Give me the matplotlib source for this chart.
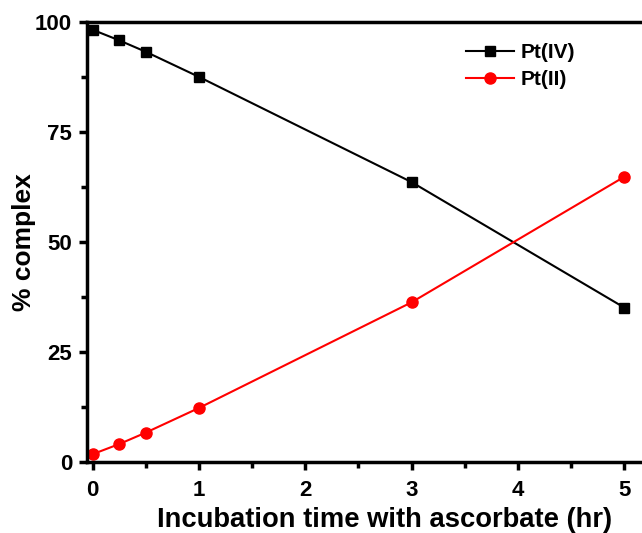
import numpy as np
import matplotlib
matplotlib.use("Agg")
import matplotlib.pyplot as plt
from matplotlib.ticker import MultipleLocator

time_hr = [0, 0.25, 0.5, 1, 3, 5]
pt_iv = [98.2, 95.8, 93.2, 87.5, 63.6, 35.1]
pt_ii = [1.8, 4.1, 6.7, 12.3, 36.3, 64.8]

plt.rcParams["font.family"] = ["Liberation Sans", "DejaVu Sans"]
plt.rcParams["font.weight"] = "bold"

fig = plt.figure(figsize=(6.42, 5.33), dpi=100)
ax = fig.add_axes([0.136, 0.133, 0.864, 0.826])

ax.plot(time_hr, pt_iv, color="black", marker="s", markersize=7, lw=1.5, label="Pt(IV)")
ax.plot(time_hr, pt_ii, color="red", marker="o", markersize=8, lw=1.5, label="Pt(II)")

ax.set_xlim(-0.05, 5.167)
ax.set_ylim(0, 100)
ax.xaxis.set_major_locator(MultipleLocator(1))
ax.xaxis.set_minor_locator(MultipleLocator(0.5))
ax.yaxis.set_major_locator(MultipleLocator(25))
ax.yaxis.set_minor_locator(MultipleLocator(12.5))
ax.set_xticks([0, 1, 2, 3, 4, 5])

for side in ["left", "bottom", "top"]:
    ax.spines[side].set_linewidth(2.5)
ax.spines["right"].set_visible(False)

ax.tick_params(which="major", direction="out", length=6, width=2.5, labelsize=16, pad=5)
ax.tick_params(axis="x", which="major", pad=7)
ax.tick_params(which="minor", direction="out", length=4, width=2.5)
ax.tick_params(top=False, which="both")

ax.set_xlabel("Incubation time with ascorbate (hr)", fontsize=19.7, fontweight="bold")
ax.set_ylabel("% complex", fontsize=19, fontweight="bold")
ax.xaxis.set_label_coords(0.535, -0.103)
ax.yaxis.set_label_coords(-0.093, 0.5)

ax.legend(loc="upper right", bbox_to_anchor=(0.905, 0.985), frameon=False,
          fontsize=15, handlelength=2.3, borderaxespad=0.3, labelspacing=0.4,
          handletextpad=0.3)

fig.savefig("out.png", dpi=100)
